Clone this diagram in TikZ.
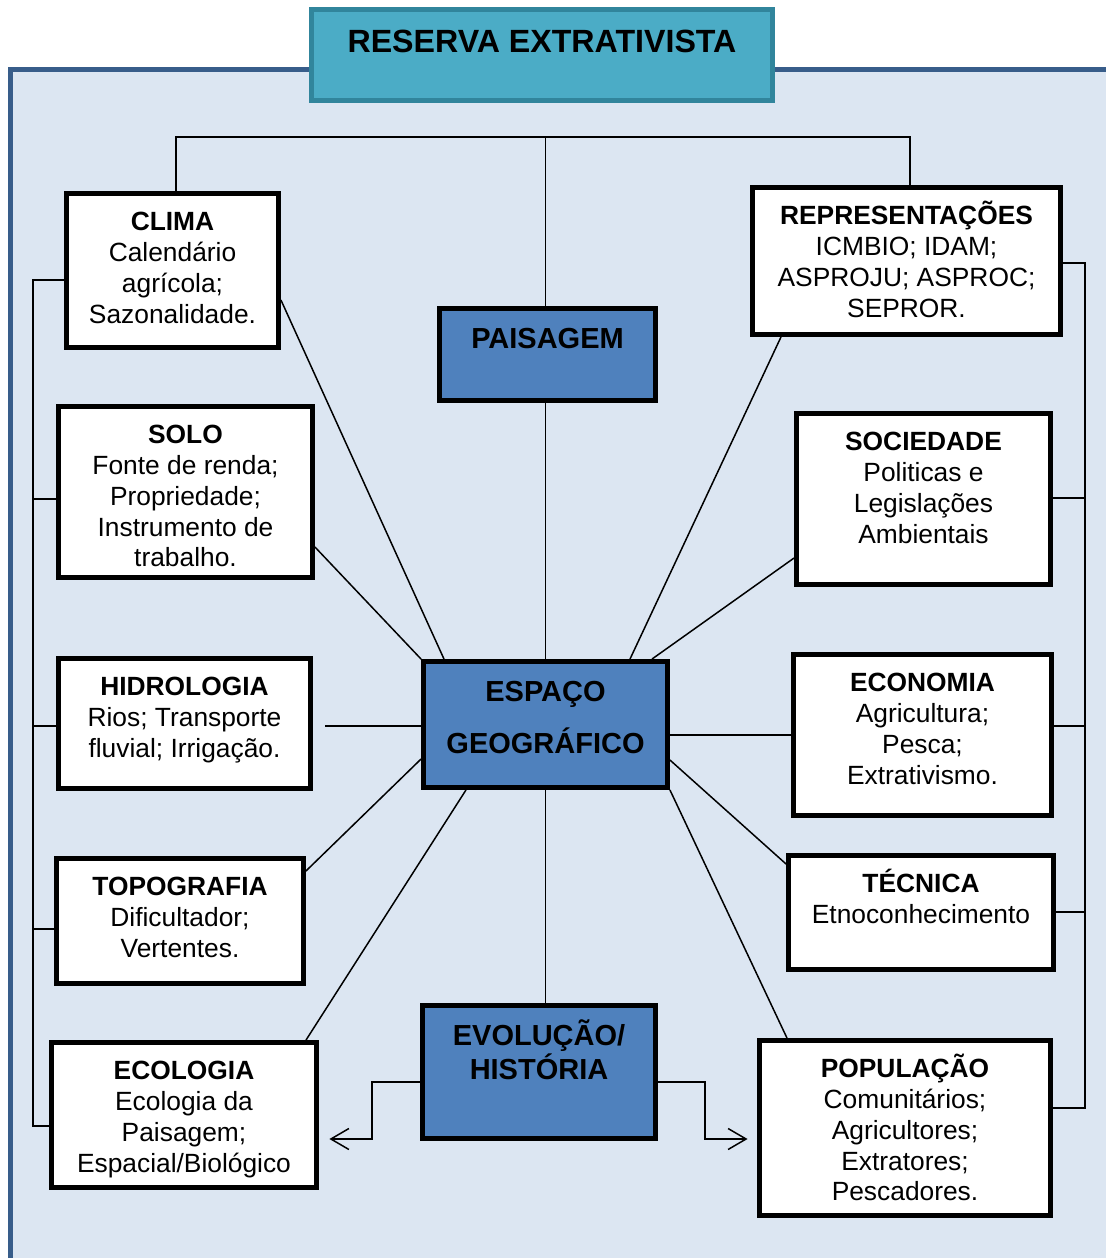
\documentclass[tikz,border=0pt]{standalone}
\usepackage{fontspec}
\setmainfont{Liberation Sans}
\usetikzlibrary{positioning,arrows.meta}
\definecolor{painel}{HTML}{DCE6F2}
\definecolor{painelborda}{HTML}{385D8A}
\definecolor{azul}{HTML}{4F81BD}
\definecolor{ciano}{HTML}{4BACC6}
\definecolor{cianoborda}{HTML}{31859C}
\tikzset{
  caixa/.style={draw, line width=2.8pt, fill=white, inner sep=0pt},
  caixaazul/.style={draw, line width=2.8pt, fill=azul, inner sep=0pt},
  caixatitulo/.style={draw=cianoborda, line width=2.8pt, fill=ciano, inner sep=0pt},
  texto/.style={anchor=north, yshift=-0.25cm, align=center, inner sep=0pt, font=\fontsize{15}{17.6}\selectfont},
  textoazul/.style={anchor=north, yshift=-0.24cm, align=center, inner sep=0pt, font=\fontsize{16.5}{19.3}\selectfont\bfseries},
  liga/.style={line width=0.85pt},
  seta/.style={liga, -{Straight Barb[length=3.6mm, width=4.2mm]}}
}
\newcommand{\titulo}[1]{\rule{0pt}{15pt}\textbf{#1}}
\newcommand{\tituloazul}[1]{\rule{0pt}{17pt}#1}

\begin{document}
\begin{tikzpicture}[x=0.02cm, y=-0.02cm]
  \useasboundingbox (0,0) rectangle (1106,1258);
  % painel de fundo
  \fill[painel] (10.8,69.2) rectangle (1106,1258);
  \draw[painelborda, line width=2.8pt] (10.8,1258) -- (10.8,69.2) -- (1106,69.2);

  % caixas
  \node[caixatitulo, minimum width=9.22cm, minimum height=1.82cm] (reserva) at (542,55) {};
  \node[caixa, minimum width=4.24cm, minimum height=3.08cm] (clima) at (172.5,270.5) {};
  \node[caixaazul, minimum width=4.32cm, minimum height=1.84cm] (paisagem) at (547.5,354.5) {};
  \node[caixa, minimum width=6.16cm, minimum height=2.94cm] (repr) at (906.5,261) {};
  \node[caixa, minimum width=5.08cm, minimum height=3.42cm] (solo) at (185.5,492) {};
  \node[caixa, minimum width=5.08cm, minimum height=3.42cm] (soc) at (923.5,499) {};
  \node[caixa, minimum width=5.04cm, minimum height=2.6cm] (hidro) at (184.5,723.5) {};
  \node[caixaazul, minimum width=4.88cm, minimum height=2.52cm] (espaco) at (545.5,724.5) {};
  \node[caixa, minimum width=5.16cm, minimum height=3.22cm] (econ) at (922.5,735) {};
  \node[caixa, minimum width=4.94cm, minimum height=2.5cm] (topo) at (180,921) {};
  \node[caixa, minimum width=5.3cm, minimum height=2.28cm] (tecn) at (921,912.5) {};
  \node[caixa, minimum width=5.3cm, minimum height=2.9cm] (ecol) at (184,1115) {};
  \node[caixaazul, minimum width=4.66cm, minimum height=2.66cm] (evol) at (539,1072) {};
  \node[caixa, minimum width=5.82cm, minimum height=3.5cm] (pop) at (905,1128) {};

  % textos
  \node[texto, yshift=-0.01cm, font=\fontsize{18.3}{21}\selectfont\bfseries] (reserva-t) at (reserva.north) {\rule{0pt}{18pt}RESERVA EXTRATIVISTA};
  \node[texto] (clima-t) at (clima.north) {\titulo{CLIMA}\\Calendário\\agrícola;\\Sazonalidade.};
  \node[textoazul] (paisagem-t) at (paisagem.north) {\tituloazul{PAISAGEM}};
  \node[texto] (repr-t) at (repr.north) {\titulo{REPRESENTAÇÕES}\\ICMBIO; IDAM;\\ASPROJU; ASPROC;\\SEPROR.};
  \node[texto] (solo-t) at (solo.north) {\titulo{SOLO}\\Fonte de renda;\\Propriedade;\\Instrumento de\\trabalho.};
  \node[texto] (soc-t) at (soc.north) {\titulo{SOCIEDADE}\\Politicas e\\Legislações\\Ambientais};
  \node[texto] (hidro-t) at (hidro.north) {\titulo{HIDROLOGIA}\\Rios; Transporte\\fluvial; Irrigação.};
  \node[textoazul] (espaco-t) at (espaco.north) {\tituloazul{ESPAÇO}\\[10.2pt]GEOGRÁFICO};
  \node[texto] (econ-t) at (econ.north) {\titulo{ECONOMIA}\\Agricultura;\\Pesca;\\Extrativismo.};
  \node[texto] (topo-t) at (topo.north) {\titulo{TOPOGRAFIA}\\Dificultador;\\Vertentes.};
  \node[texto] (tecn-t) at (tecn.north) {\titulo{TÉCNICA}\\Etnoconhecimento};
  \node[texto] (ecol-t) at (ecol.north) {\titulo{ECOLOGIA}\\Ecologia da\\Paisagem;\\Espacial/Biológico};
  \node[textoazul] (evol-t) at (evol.north) {\tituloazul{EVOLUÇÃO/}\\HISTÓRIA};
  \node[texto] (pop-t) at (pop.north) {\titulo{POPULAÇÃO}\\Comunitários;\\Agricultores;\\Extratores;\\Pescadores.};

  % chave de cima
  \coordinate (cima) at (545.5,137);
  \draw[liga] (clima.north -| 176,0) |- (cima) -| (repr.north -| 910,0);
  \draw[liga] (cima) -- (cima |- paisagem.north);
  \draw[liga] (espaco.north |- paisagem.south) -- (espaco.north);

  % chave da esquerda
  \draw[liga] (clima.west |- 0,280) -- (33,280) |- (ecol.west |- 0,1126);
  \draw[liga] (solo.west |- 0,499) -- (33,499);
  \draw[liga] (hidro.west |- 0,726) -- (33,726);
  \draw[liga] (topo.west |- 0,929) -- (33,929);

  % chave da direita
  \draw[liga] (repr.east |- 0,263) -- (1085,263) |- (pop.east |- 0,1108);
  \draw[liga] (soc.east |- 0,498) -- (1085,498);
  \draw[liga] (econ.east |- 0,726) -- (1085,726);
  \draw[liga] (tecn.east |- 0,912) -- (1085,912);

  % raios do espaco geografico
  \draw[liga] (clima.east |- 0,300) -- (espaco.north -| 444,0);
  \draw[liga] (solo.east |- 0,547) -- (espaco.north west);
  \draw[liga, shorten <=0.25cm] (hidro.east |- 0,726) -- (espaco.west |- 0,726);
  \draw[liga] (topo.east |- 0,871) -- (espaco.west |- 0,759);
  \draw[liga] (ecol.north -| 306,0) -- (espaco.south -| 466,0);
  \draw[liga] (espaco.south) -- (espaco.south |- evol.north);
  \draw[liga] (espaco.south east) -- (pop.north -| 787,0);
  \draw[liga] (espaco.east |- 0,760) -- (tecn.west |- 0,864);
  \draw[liga] (espaco.east |- 0,735) -- (econ.west |- 0,735);
  \draw[liga] (espaco.north -| 652,0) -- (soc.west |- 0,558);
  \draw[liga] (espaco.north -| 630,0) -- (repr.south -| 781,0);

  % setas da evolucao
  \draw[seta, shorten >=0.21cm] (evol.west |- 0,1082) -- (372,1082) |- (ecol.east |- 0,1139);
  \draw[seta, shorten >=0.19cm] (evol.east |- 0,1082) -- (705,1082) |- (pop.west |- 0,1139);
\end{tikzpicture}
\end{document}
